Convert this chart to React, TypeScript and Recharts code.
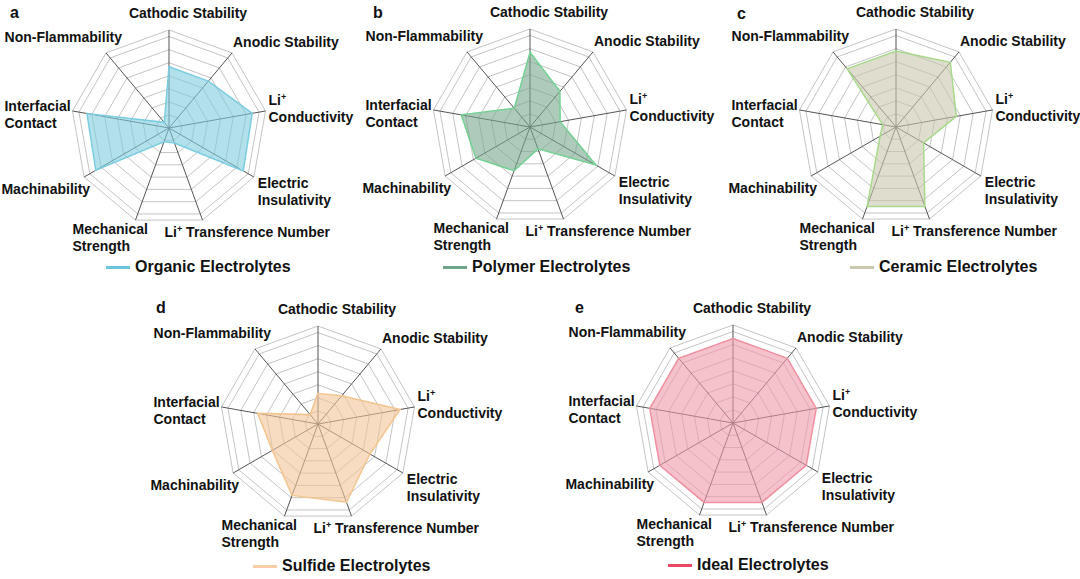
import { RadarChart, Radar, PolarGrid, PolarAngleAxis, PolarRadiusAxis } from 'recharts'

const AXES = [
  'Cathodic Stability',
  'Anodic Stability',
  'Li+ Conductivity',
  'Electric Insulativity',
  'Li+ Transference Number',
  'Mechanical Strength',
  'Machinability',
  'Interfacial Contact',
  'Non-Flammability',
]

// label line breaks as in the figure
const AXIS_LINES = [
  ['Cathodic Stability'],
  ['Anodic Stability'],
  ['Li+', 'Conductivity'],
  ['Electric', 'Insulativity'],
  ['Li+ Transference Number'],
  ['Mechanical', 'Strength'],
  ['Machinability'],
  ['Interfacial', 'Contact'],
  ['Non-Flammability'],
]

// scores, same axis order as AXES
const ORGANIC = [5.0, 5.0, 6.9, 7.0, 1.3, 1.2, 6.9, 6.8, 0.6]
const POLYMER = [6.1, 3.8, 2.5, 6.2, 1.9, 3.8, 5.1, 5.7, 2.0]
const CERAMIC = [6.2, 6.9, 5.0, 2.6, 6.9, 6.9, 1.5, 1.1, 6.2]
const SULFIDE = [2.5, 3.0, 6.8, 4.9, 6.8, 6.2, 4.3, 5.0, 1.0]
const IDEAL = [6.9, 6.9, 6.9, 6.9, 6.9, 6.9, 6.9, 6.9, 6.9]

const RING_TICKS = [1, 2, 3, 4, 5, 6, 7, 7.5]
const SCALE_MAX = 7.5

const rows = AXES.map((axis, i) => ({
  axis,
  organic: ORGANIC[i],
  polymer: POLYMER[i],
  ceramic: CERAMIC[i],
  sulfide: SULFIDE[i],
  ideal: IDEAL[i],
}))

const R = 98
const W = 420
const H = 290
const CX = 210
const CY = 135
const FONT = '"Liberation Sans", Arial, Helvetica, sans-serif'

const PANELS = [
  { letter: 'a', key: 'organic', name: 'Organic Electrolytes', fill: '#7fcbdd', stroke: '#7ccde0', legend: '#6cc5dc', cx: 169, cy: 127.5, letterX: 10, letterY: 13, legendX: 106, legendY: 267 },
  { letter: 'b', key: 'polymer', name: 'Polymer Electrolytes', fill: '#78a68d', stroke: '#74d194', legend: '#6fa68a', cx: 530, cy: 127.3, letterX: 373, letterY: 13, legendX: 443, legendY: 267 },
  { letter: 'c', key: 'ceramic', name: 'Ceramic Electrolytes', fill: '#c8c6ad', stroke: '#a8da8c', legend: '#c9c9b0', cx: 895.7, cy: 126.7, letterX: 737, letterY: 14, legendX: 850, legendY: 267 },
  { letter: 'd', key: 'sulfide', name: 'Sulfide Electrolytes', fill: '#f4c59a', stroke: '#f3c58f', legend: '#f7cfa7', cx: 318.3, cy: 424, letterX: 156, letterY: 308, legendX: 253, legendY: 566 },
  { letter: 'e', key: 'ideal', name: 'Ideal Electrolytes', fill: '#ef98a8', stroke: '#f090a0', legend: '#e84a64', cx: 733.3, cy: 422.7, letterX: 575, letterY: 308, legendX: 668, legendY: 565 },
]

// where each label sits relative to its spoke end (dy = middle of first line)
const LABEL_LAYOUT: { anchor: 'start' | 'middle' | 'end'; dx: number; dy: number }[] = [
  { anchor: 'middle', dx: 19, dy: -17 },
  { anchor: 'start', dx: 1, dy: -11 },
  { anchor: 'start', dx: 3, dy: -11 },
  { anchor: 'start', dx: 4, dy: 6 },
  { anchor: 'start', dx: -38, dy: 12 },
  { anchor: 'start', dx: -63, dy: 9 },
  { anchor: 'end', dx: 6, dy: 12 },
  { anchor: 'start', dx: -68, dy: -5 },
  { anchor: 'end', dx: 16, dy: -16 },
]

const ringRadii = RING_TICKS.map(t => (t / SCALE_MAX) * R)

function lineText(text: string) {
  if (text.startsWith('Li+')) {
    return (
      <>
        Li
        <tspan dy={-5} fontSize={9}>+</tspan>
        <tspan dy={5}>{text.slice(3)}</tspan>
      </>
    )
  }
  return text
}

function AxisTick(props: any) {
  const i = props.index as number
  const ang = ((90 - 40 * i) * Math.PI) / 180
  const vx = CX + R * Math.cos(ang)
  const vy = CY - R * Math.sin(ang)
  const lay = LABEL_LAYOUT[i]
  return (
    <g>
      {AXIS_LINES[i].map((ln, k) => (
        <text
          key={k}
          x={vx + lay.dx}
          y={vy + lay.dy + k * 17 + 5}
          textAnchor={lay.anchor}
          fontFamily={FONT}
          fontWeight="bold"
          fontSize={14}
          fill="#111"
        >
          {lineText(ln)}
        </text>
      ))}
    </g>
  )
}

function Panel({ p }: { p: (typeof PANELS)[number] }) {
  return (
    <>
      <div style={{ position: 'absolute', left: p.cx - CX, top: p.cy - CY }}>
        <RadarChart
          width={W}
          height={H}
          data={rows}
          cx={CX}
          cy={CY}
          outerRadius={R}
          margin={{ top: 0, right: 0, bottom: 0, left: 0 }}
        >
          <PolarGrid gridType="polygon" radialLines={false} polarRadius={ringRadii} stroke="#c4c4c4" strokeWidth={1} />
          <PolarGrid gridType="polygon" radialLines polarRadius={[]} stroke="#555" strokeWidth={1} />
          <PolarRadiusAxis domain={[0, SCALE_MAX]} tick={false} axisLine={false} />
          <PolarAngleAxis dataKey="axis" tick={<AxisTick />} tickLine={false} axisLine={false} />
          <Radar
            dataKey={p.key}
            stroke={p.stroke}
            strokeWidth={1.5}
            fill={p.fill}
            fillOpacity={0.6}
            dot={false}
            isAnimationActive={false}
          />
        </RadarChart>
      </div>
      <div
        style={{
          position: 'absolute',
          left: p.letterX,
          top: p.letterY - 10,
          height: 20,
          lineHeight: '20px',
          fontFamily: FONT,
          fontWeight: 'bold',
          fontSize: 16,
          color: '#111',
        }}
      >
        {p.letter}
      </div>
      <div
        style={{
          position: 'absolute',
          left: p.legendX,
          top: p.legendY - 10,
          height: 20,
          display: 'flex',
          alignItems: 'center',
          fontFamily: FONT,
          fontWeight: 'bold',
          fontSize: 16,
          color: '#111',
          whiteSpace: 'nowrap',
        }}
      >
        <div style={{ width: 24, height: 3, background: p.legend, marginRight: 5 }} />
        <span>{p.name}</span>
      </div>
    </>
  )
}

export default function App() {
  return (
    <div style={{ position: 'absolute', left: 0, top: 0, width: 1080, height: 579, background: '#fff', overflow: 'hidden' }}>
      {PANELS.map(p => (
        <Panel key={p.letter} p={p} />
      ))}
    </div>
  )
}
